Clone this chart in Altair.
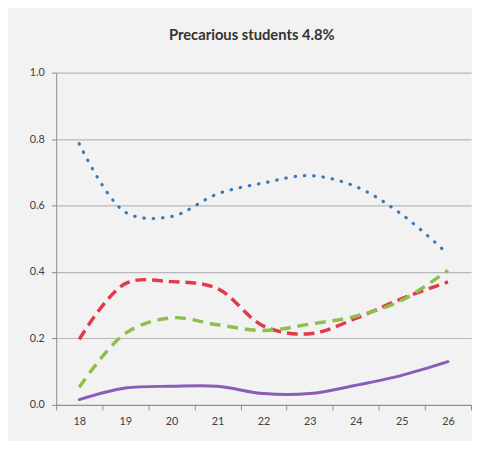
import altair as alt
import pandas as pd

ages = [18, 19, 20, 21, 22, 23, 24, 25, 26]
series_names = ["Series 1", "Series 2", "Series 3", "Series 4"]
blue = [0.786, 0.580, 0.567, 0.635, 0.668, 0.690, 0.657, 0.573, 0.454]
red = [0.197, 0.365, 0.371, 0.350, 0.237, 0.214, 0.260, 0.320, 0.370]
green = [0.053, 0.215, 0.262, 0.241, 0.224, 0.243, 0.267, 0.315, 0.405]
purple = [0.016, 0.051, 0.056, 0.056, 0.034, 0.034, 0.059, 0.089, 0.130]
y_ticks = [0.0, 0.2, 0.4, 0.6, 0.8, 1.0]

values = [blue, red, green, purple]
styles = [
    dict(color="#3a78b8", strokeWidth=3.2, strokeDash=[0.5, 9], strokeCap="round"),
    dict(color="#e23a4a", strokeWidth=3.5, strokeDash=[11, 6], strokeCap="butt"),
    dict(color="#8fbf4a", strokeWidth=3.5, strokeDash=[11, 7], strokeCap="butt"),
    dict(color="#8a5cb8", strokeWidth=3, strokeCap="round"),
]

x_enc = alt.X(
    "age:O",
    scale=alt.Scale(paddingInner=0, paddingOuter=0),
    axis=alt.Axis(
        title=None, labelAngle=0, tickBand="extent", grid=False,
        domainColor="#8c8c8c", tickColor="#8c8c8c", tickSize=5,
        labelColor="#404040", labelFontSize=11, labelPadding=6,
    ),
)
y_enc = alt.Y(
    "value:Q",
    scale=alt.Scale(domain=[0, 1], nice=False, zero=True),
    axis=alt.Axis(
        title=None, values=y_ticks, format=".1f", grid=True,
        gridColor="#b8b8b8", gridWidth=1.2, domainColor="#8c8c8c",
        tickColor="#8c8c8c", tickSize=5, labelColor="#404040",
        labelFontSize=11, labelPadding=7,
    ),
)

layers = []
for i in range(4):
    df = pd.DataFrame({"age": ages, "value": values[i], "series": series_names[i]})
    layers.append(
        alt.Chart(df).mark_line(interpolate="catmull-rom", **styles[i]).encode(x=x_enc, y=y_enc)
    )

chart = (
    alt.layer(*layers)
    .properties(
        width=422,
        height=338,
        background="#f2f2f2",
        padding={"left": 49, "top": 62, "right": 1, "bottom": 33},
        autosize=alt.AutoSizeParams(type="none"),
        title=alt.TitleParams(
            "Precarious students 4.8%", font="Lato", fontSize=15, fontWeight="bold",
            color="#333333", anchor="middle", dx=-12, offset=24,
        ),
    )
    .configure_view(stroke=None)
    .configure_axis(labelFont="Lato")
)

chart.save("out.html", embed_options={"renderer": "svg", "actions": False})
